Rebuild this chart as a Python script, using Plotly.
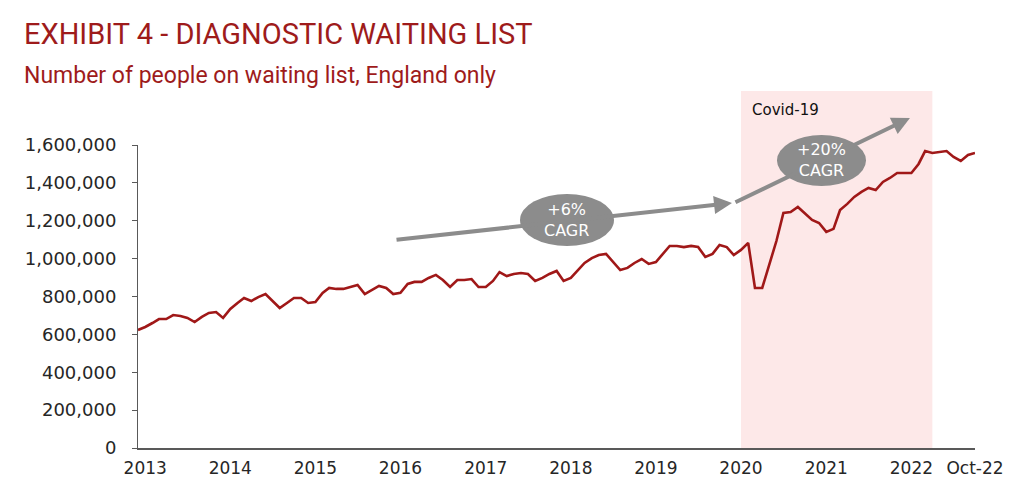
import pandas as pd
import plotly.graph_objects as go

# monthly diagnostic waiting list, England, Dec-12 .. Oct-22
months = pd.date_range("2012-12-01", "2022-10-01", freq="MS")
waiting_k = [
    623, 639, 660, 681, 681, 702, 697, 687, 665, 692, 713, 718,
    687, 734, 766, 792, 776, 797, 813, 776, 739, 766, 792, 792,
    766, 771, 819, 845, 840, 840, 850, 861, 813, 834, 856, 845,
    813, 819, 866, 877, 877, 898, 914, 887, 850, 887, 887, 892,
    850, 850, 882, 929, 908, 919, 924, 919, 882, 898, 919, 935,
    882, 898, 940, 977, 1003, 1019, 1025, 982, 940, 951, 977, 998,
    972, 982, 1030, 1067, 1067, 1061, 1067, 1061, 1009, 1025, 1072, 1061,
    1019, 1046, 1083, 845, 845, 961, 1093, 1241, 1246, 1273, 1241, 1204,
    1188, 1141, 1157, 1257, 1289, 1326, 1352, 1373, 1362, 1405, 1426, 1452,
    1452, 1452, 1500, 1568, 1558, 1563, 1568, 1537, 1516, 1547, 1558,
]
waiting = [v * 1000 for v in waiting_k]

# axis ticks
tick_dates = [f"{y}-01-01" for y in range(2013, 2023)] + ["2022-10-01"]
tick_text = [str(y) for y in range(2013, 2023)] + ["Oct-22"]
y_ticks = list(range(0, 1600001, 200000))

# covid period shading
covid_start = "2020-01-01"
covid_end = "2022-04-01"

RED = "#9e1b1b"
LINE_RED = "#a01818"
GREY = "#8c8c8c"
AXIS = "#595959"

fig = go.Figure()
fig.add_trace(go.Scatter(
    x=months, y=waiting, mode="lines",
    line=dict(color=LINE_RED, width=2.6),
    hoverinfo="x+y", showlegend=False,
))

shapes = [
    # covid box, goes above the plot area like in the exhibit
    dict(type="rect", xref="x", yref="paper", x0=covid_start, x1=covid_end,
         y0=0, y1=1.178, fillcolor="#fde8e8", line_width=0, layer="below"),
    # CAGR bubbles
    dict(type="circle", xref="paper", yref="paper", x0=0.4564, x1=0.5687,
         y0=0.6667, y1=0.8383, fillcolor=GREY, line_width=0, layer="above"),
    dict(type="circle", xref="paper", yref="paper", x0=0.7634, x1=0.8698,
         y0=0.8647, y1=1.033, fillcolor=GREY, line_width=0, layer="above"),
]

bubble_font = dict(family="DejaVu Sans", size=16, color="white")
annotations = [
    # arrows first so the bubble text sits on top of them
    dict(xref="paper", yref="paper", x=0.7097, y=0.8086, ax=-337, ay=37,
         showarrow=True, arrowhead=2, arrowsize=0.9, arrowwidth=4,
         arrowcolor=GREY, text=""),
    dict(xref="paper", yref="paper", x=0.9223, y=1.089, ax=-176, ay=85,
         showarrow=True, arrowhead=2, arrowsize=0.9, arrowwidth=4,
         arrowcolor=GREY, text=""),
    dict(xref="paper", yref="paper", x=0.5125, y=0.7525, xanchor="center",
         yanchor="middle", showarrow=False, text="+6%<br>CAGR", font=bubble_font),
    dict(xref="paper", yref="paper", x=0.8172, y=0.9505, xanchor="center",
         yanchor="middle", showarrow=False, text="+20%<br>CAGR", font=bubble_font),
    dict(xref="paper", yref="paper", x=0.7312, y=1.1155, xanchor="left",
         yanchor="middle", showarrow=False, text="Covid-19",
         font=dict(family="DejaVu Sans", size=15, color="#111111")),
    # title and subtitle
    dict(xref="paper", yref="paper", x=-0.1385, y=1.366, xanchor="left",
         yanchor="middle", showarrow=False,
         text="EXHIBIT 4 - DIAGNOSTIC WAITING LIST",
         font=dict(family="Roboto", size=29, color=RED)),
    dict(xref="paper", yref="paper", x=-0.1385, y=1.228, xanchor="left",
         yanchor="middle", showarrow=False,
         text="Number of people on waiting list, England only",
         font=dict(family="Roboto", size=23, color=RED)),
]

# the page body adds 8px, margins below take that into account
fig.update_layout(
    width=1024, height=498,
    margin=dict(l=130, r=57, t=137, b=58),
    paper_bgcolor="white",
    plot_bgcolor="rgba(0,0,0,0)",
    shapes=shapes,
    annotations=annotations,
    font=dict(family="DejaVu Sans", color="#262626"),
    xaxis=dict(
        type="date", range=["2012-12-01", "2022-10-01"],
        tickvals=tick_dates, ticktext=tick_text,
        showgrid=False, zeroline=False,
        showline=True, linecolor=AXIS, linewidth=2,
        ticks="", ticklabelstandoff=4,
        tickfont=dict(size=17, family="DejaVu Sans", color="#262626"),
    ),
    yaxis=dict(
        range=[0, 1600000], tickvals=y_ticks,
        tickformat=",d", showgrid=False, zeroline=False,
        showline=True, linecolor=AXIS, linewidth=1,
        ticks="outside", ticklen=5, tickcolor=AXIS,
        ticklabelstandoff=12,
        tickfont=dict(size=18, family="DejaVu Sans", color="#262626"),
    ),
)

fig.write_html("out.html")
